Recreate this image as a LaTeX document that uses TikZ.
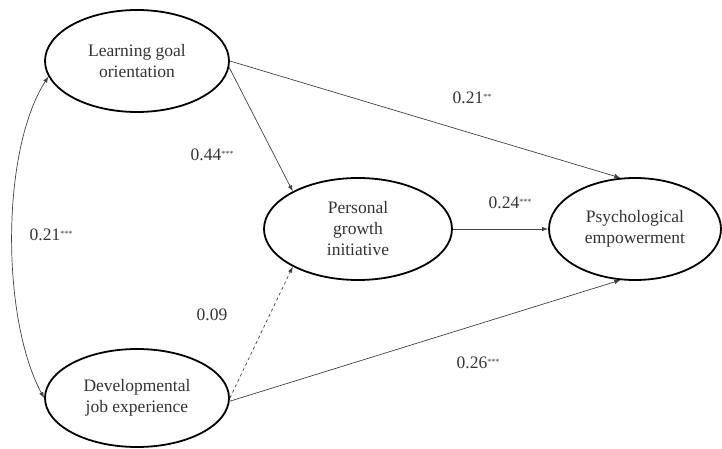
\documentclass[tikz,border=0pt]{standalone}
\usepackage{fontspec}
\newfontfamily\tnr{LiberationSerif}[Extension=.ttf,UprightFont=*-Regular]
\usetikzlibrary{shapes.geometric,arrows.meta}
\newcommand{\sig}[1]{\raisebox{0.55ex}{\fontsize{8}{8}\selectfont #1}}
\begin{document}
\begin{tikzpicture}[x=1pt,y=-1pt,
  latent/.style={ellipse,draw=black,line width=1.8pt,inner sep=0pt,
    font=\tnr\fontsize{17.5}{21}\selectfont,text=black!80,align=center},
  path/.style={draw=black!75,line width=0.7pt,-{Latex[length=6pt,width=4.5pt]}},
  coef/.style={font=\tnr\fontsize{17.5}{21}\selectfont,text=black!80}]
\useasboundingbox (0,0) rectangle (722,449);
\node[latent,minimum width=184pt,minimum height=102pt] (lgo) at (137,61) {Learning goal\\orientation};
\node[latent,minimum width=184pt,minimum height=98pt] (dje) at (137,398) {Developmental\\job experience};
\node[latent,minimum width=188pt,minimum height=102pt] (pgi) at (358,229) {Personal\\growth\\initiative};
\node[latent,minimum width=172pt,minimum height=102pt] (pe) at (635,229) {Psychological\\empowerment};
\draw[path] (lgo.east) -- (pe.106);
\draw[path] (lgo.356) -- (pgi.150);
\draw[path] (pgi.east) -- (pe.west);
\draw[path,dashed] (dje.east) -- (pgi.210);
\draw[path] (dje.358) -- (pe.254);
\draw[draw=black!75,line width=0.7pt,{Latex[length=6pt,width=4.5pt]}-{Latex[length=6pt,width=4.5pt]}]
  (lgo.190) .. controls (1,150) and (1,318) .. (dje.180);
\node[coef] (c1) at (212,155) {0.44\sig{***}};
\node[coef] (c2) at (472,98) {0.21\sig{**}};
\node[coef] (c3) at (510,203) {0.24\sig{***}};
\node[coef] (c4) at (51,235) {0.21\sig{***}};
\node[coef] (c5) at (212,315) {0.09};
\node[coef] (c6) at (478,363) {0.26\sig{***}};
\end{tikzpicture}
\end{document}
